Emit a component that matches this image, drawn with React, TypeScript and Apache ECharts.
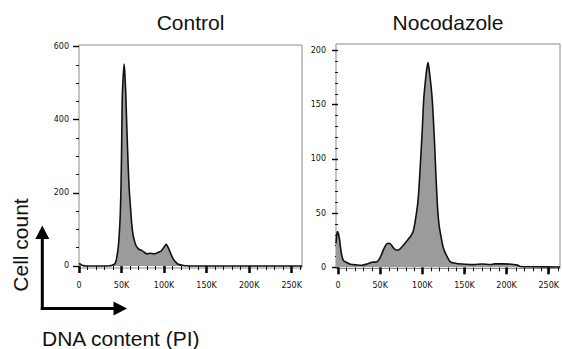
import React, { useEffect, useRef } from "react";
import * as echarts from "echarts";

// Panel titles and axis titles
const panelTitles = ["Control", "Nocodazole"];
const yTitle = "Cell count";
const xTitle = "DNA content (PI)";

// Control histogram: DNA content (thousands, PI) vs cell count
const controlDna = [0, 1, 2, 3, 5, 8, 20, 30, 36, 39, 41, 42.5, 44, 45.2, 46.5, 47.6, 48.5, 49.1, 49.6, 50.2, 50.8, 52, 53.1, 54, 55, 56, 57, 58, 59, 60, 61, 62, 63, 64, 65.3, 67, 69, 71, 74, 77, 80, 84, 88, 91, 94, 96.5, 98.5, 100.5, 102.3, 103.5, 105.3, 107.3, 109.3, 111, 113.2, 115.5, 119.1, 123, 127, 130, 262.144];
const controlCount = [5, 6, 5, 3, 1, 0, 0, 0, 0.5, 2, 4, 7, 18, 35, 60, 98, 140, 189, 245, 340, 454, 520, 552, 522, 470, 395, 326, 262, 210, 178, 145, 115, 94, 80, 68, 56, 49, 45, 42, 37, 33, 35, 33, 35, 38, 41, 47, 53, 59, 56, 48, 37, 26, 18, 12, 6, 3, 1.5, 0.5, 0, 0];

// Nocodazole histogram
const nocoDna = [-2.4, -1.5, -0.5, 0.5, 1.9, 3, 3.9, 5, 6.6, 10.6, 14.5, 22.5, 28.4, 34.3, 40.2, 45.3, 47.3, 49.2, 51.5, 53.9, 57.1, 60.6, 63, 65.7, 68.5, 71.6, 74.5, 77.5, 82.3, 86, 88.7, 90.6, 92.6, 94, 95.5, 97.3, 99.3, 101.2, 103.2, 105, 106.4, 108, 110, 111.5, 113.8, 115, 116.4, 117.7, 119.5, 121.7, 124, 126.8, 132.7, 140, 150, 160, 170, 180, 185, 195, 205, 212, 215, 230, 262.144];
const nocoCount = [22, 30, 33, 31, 25, 18, 13, 9, 6, 4.3, 2.8, 2.2, 1.9, 3, 4.6, 4.9, 6, 8.3, 12, 16.7, 21.3, 22.2, 20.5, 17.6, 16, 16, 18, 20.6, 25.3, 29, 33, 40, 50, 58, 72, 96, 124, 155, 172, 184, 189, 180, 166, 152, 118, 96, 72, 53, 38, 28, 19, 13, 5, 3.5, 2.8, 2.5, 3, 2.6, 3.2, 3.2, 2.8, 2, 0.8, 0.5, 0.3];

// Axis scale settings per panel (values, not positions)
const xMaxValue = 262.144;
const xMajorTicks = [0, 250, 50];
const xMinorTicks = [0, 260, 10];
const yTicks = [
  { max: 600, interval: 200, minorSplit: 4 },
  { max: 200, interval: 50, minorSplit: 5 },
];
const panelRanges = [
  { xMin: 0, yMin: -5.5, yMax: 604 },
  { xMin: -2.4, yMin: -1.1, yMax: 206 },
];

// Layout (pixels)
const boxes = [
  { left: 79, top: 45, width: 223, height: 223 },
  { left: 336, top: 44, width: 224, height: 224.5 },
];

const TICK_FONT = "DejaVu Sans";
const TITLE_FONT = "Liberation Sans";

export default function App() {
  const ref = useRef<HTMLDivElement>(null);

  useEffect(() => {
    if (!ref.current) return;
    const chart = echarts.init(ref.current, undefined, { renderer: "svg" });

    const grids: any[] = [];
    const xAxes: any[] = [];
    const yAxes: any[] = [];
    const series: any[] = [];
    const graphics: any[] = [];

    const datasets = [
      controlDna.map((d, i) => [d, controlCount[i]]),
      nocoDna.map((d, i) => [d, nocoCount[i]]),
    ];

    boxes.forEach((b, p) => {
      const r = panelRanges[p];
      const yt = yTicks[p];
      const px = (v: number) => b.left + ((v - r.xMin) / (xMaxValue - r.xMin)) * b.width;
      const py = (v: number) => b.top + b.height - ((v - r.yMin) / (r.yMax - r.yMin)) * b.height;
      const bottom = b.top + b.height;

      // box grid with data
      const gBox = grids.length;
      grids.push({
        left: b.left, top: b.top, width: b.width, height: b.height,
        show: true, borderColor: "#8a8a8a", borderWidth: 1, backgroundColor: "transparent",
      });
      xAxes.push({ type: "value", gridIndex: gBox, min: r.xMin, max: xMaxValue, show: false });
      yAxes.push({ type: "value", gridIndex: gBox, min: r.yMin, max: r.yMax, show: false });
      series.push({
        type: "line",
        xAxisIndex: xAxes.length - 1,
        yAxisIndex: yAxes.length - 1,
        data: datasets[p],
        showSymbol: false,
        smooth: 0.2,
        lineStyle: { color: "#111", width: 1.6 },
        areaStyle: { color: "#9b9b9b", opacity: 1 },
        silent: true,
        z: 3,
      });

      // major ticks grid
      const gMaj = grids.length;
      const x0 = px(0);
      const y0 = py(0);
      const yTop = py(yt.max);
      grids.push({
        left: x0, top: yTop, width: px(xMajorTicks[1]) - x0, height: y0 - yTop,
        show: false,
      });
      xAxes.push({
        type: "value", gridIndex: gMaj, min: xMajorTicks[0], max: xMajorTicks[1], interval: xMajorTicks[2],
        position: "bottom", offset: bottom - y0,
        axisLine: { show: false },
        axisTick: { show: true, length: 7, lineStyle: { color: "#000", width: 2.5 } },
        splitLine: { show: false },
        axisLabel: {
          show: true, fontSize: 8, fontFamily: TICK_FONT, color: "#111", margin: 13,
          formatter: (v: number) => (v === 0 ? "0" : v + "K"),
        },
      });
      yAxes.push({
        type: "value", gridIndex: gMaj, min: 0, max: yt.max, interval: yt.interval,
        position: "left", offset: x0 - b.left,
        axisLine: { show: false },
        axisTick: { show: true, length: 6, lineStyle: { color: "#000", width: 1.4 } },
        minorTick: { show: true, splitNumber: yt.minorSplit, length: 3, lineStyle: { color: "#111", width: 1 } },
        splitLine: { show: false },
        minorSplitLine: { show: false },
        axisLabel: { show: true, fontSize: 8, fontFamily: TICK_FONT, color: "#111", margin: 10 },
      });

      // minor x ticks grid
      const gMin = grids.length;
      grids.push({
        left: x0, top: yTop, width: px(xMinorTicks[1]) - x0, height: y0 - yTop,
        show: false,
      });
      xAxes.push({
        type: "value", gridIndex: gMin, min: xMinorTicks[0], max: xMinorTicks[1], interval: xMinorTicks[2],
        position: "bottom", offset: bottom - y0,
        axisLine: { show: false },
        axisTick: { show: true, length: 4, lineStyle: { color: "#111", width: 1 } },
        splitLine: { show: false },
        axisLabel: { show: false },
      });
      yAxes.push({ type: "value", gridIndex: gMin, min: 0, max: yt.max, show: false });

      graphics.push({
        type: "text",
        x: b.left + b.width / 2,
        y: 22,
        style: {
          text: panelTitles[p], fill: "#111", fontSize: 21, fontFamily: TITLE_FONT,
          align: "center", verticalAlign: "middle",
        },
      });
    });

    // axis titles and arrows
    graphics.push(
      {
        type: "text", x: 20, y: 245, rotation: Math.PI / 2,
        style: { text: yTitle, fill: "#111", fontSize: 21, fontFamily: TITLE_FONT, align: "center", verticalAlign: "middle" },
      },
      {
        type: "text", x: 42, y: 338,
        style: { text: xTitle, fill: "#111", fontSize: 21, fontFamily: TITLE_FONT, align: "left", verticalAlign: "middle" },
      },
      { type: "line", shape: { x1: 42.3, y1: 310, x2: 42.3, y2: 236 }, style: { stroke: "#000", lineWidth: 3 } },
      { type: "polygon", shape: { points: [[42.3, 225.5], [35.3, 239], [49.3, 239]] }, style: { fill: "#000" } },
      { type: "line", shape: { x1: 40.8, y1: 308.5, x2: 116, y2: 308.5 }, style: { stroke: "#000", lineWidth: 3 } },
      { type: "polygon", shape: { points: [[127, 308.5], [113.5, 301.5], [113.5, 315.5]] }, style: { fill: "#000" } },
    );

    chart.setOption({
      animation: false,
      backgroundColor: "#fff",
      grid: grids,
      xAxis: xAxes,
      yAxis: yAxes,
      series,
      graphic: graphics,
    });

    return () => chart.dispose();
  }, []);

  return (
    <div
      ref={ref}
      style={{ position: "absolute", left: 0, top: 0, width: 562, height: 349 }}
    />
  );
}
